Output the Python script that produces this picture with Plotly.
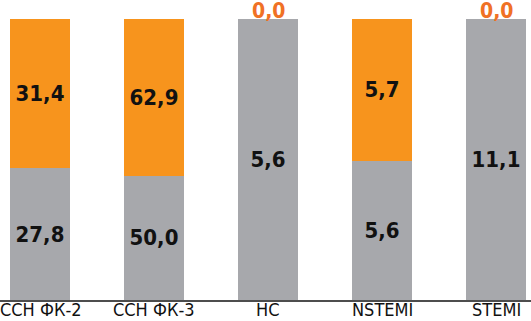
import plotly.graph_objects as go

categories = ["ССН ФК-2", "ССН ФК-3", "НС", "NSTEMI", "STEMI"]
gray_values = [27.8, 50.0, 5.6, 5.6, 11.1]
orange_values = [31.4, 62.9, 0.0, 5.7, 0.0]

GRAY = "#A7A8AC"
ORANGE = "#F7941D"
ZERO_COLOR = "#F07125"
FONT = "Liberation Sans Narrow, DejaVu Sans Condensed, sans-serif"

def fmt(v):
    return f"{v:.1f}".replace(".", ",")

totals = [g + o for g, o in zip(gray_values, orange_values)]
gray_pct = [g / t * 100 for g, t in zip(gray_values, totals)]
orange_pct = [o / t * 100 for o, t in zip(orange_values, totals)]

x = list(range(len(categories)))
fig = go.Figure()
fig.add_bar(x=x, y=gray_pct, marker=dict(color=GRAY, line=dict(width=0)),
            text=[fmt(v) for v in gray_values], textposition="inside",
            insidetextanchor="middle",
            textfont=dict(family=FONT, size=22, color="#111111", weight="bold"),
            width=0.526, hoverinfo="skip")
fig.add_bar(x=x, y=orange_pct, marker=dict(color=ORANGE, line=dict(width=0)),
            text=[fmt(v) if v > 0 else "" for v in orange_values], textposition="inside",
            insidetextanchor="middle",
            textfont=dict(family=FONT, size=22, color="#111111", weight="bold"),
            width=0.526, hoverinfo="skip")

for i, v in enumerate(orange_values):
    if v == 0:
        fig.add_annotation(x=i, y=1, xref="x", yref="paper", text=fmt(v),
                           showarrow=False, yanchor="bottom", yshift=-6,
                           font=dict(family=FONT, size=21, color=ZERO_COLOR, weight="bold"))

for i, c in enumerate(categories):
    fig.add_annotation(x=i, y=0, xref="x", yref="paper", text=c,
                       showarrow=False, yanchor="top", yshift=3,
                       xshift=1 if i == 0 else 0,
                       font=dict(family=FONT, size=18, color="#111111"))

fig.update_layout(
    barmode="stack",
    width=531, height=321,
    margin=dict(l=0, r=0, t=19, b=21),
    paper_bgcolor="white", plot_bgcolor="white",
    showlegend=False,
    uniformtext=dict(mode=False),
)
fig.update_xaxes(range=[-40 / 114, 4 + 35 / 114], tickvals=x, showticklabels=False,
                 showline=True, linecolor="#4D4D4D", linewidth=1.5,
                 showgrid=False, zeroline=False, ticks="", automargin=False)
fig.update_yaxes(range=[0, 100], visible=False, showgrid=False, zeroline=False)

fig.write_html("out.html", config={"displayModeBar": False},
               post_script="document.body.style.margin='0';document.body.style.overflow='hidden';")
